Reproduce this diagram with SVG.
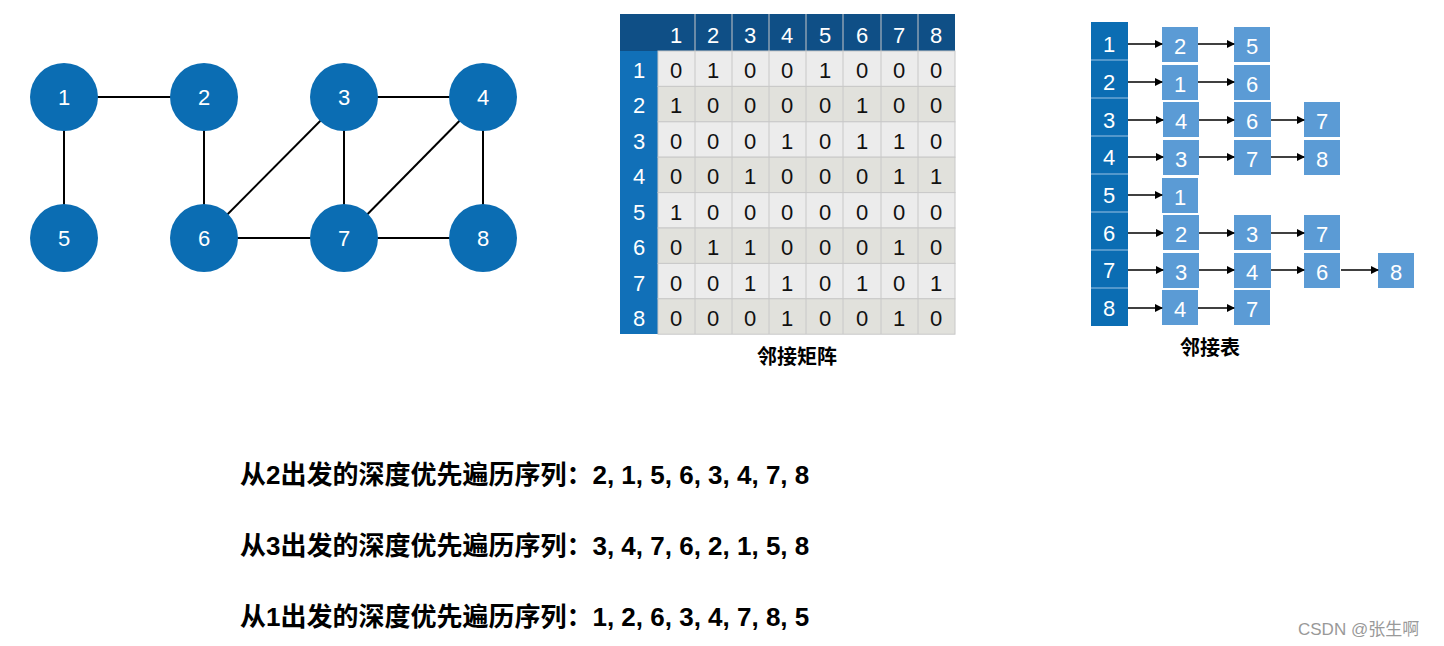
<svg xmlns="http://www.w3.org/2000/svg" width="1444" height="646" viewBox="0 0 1444 646">
<style>
.n{fill:#0b6db3}
.nt{fill:#fff;font-family:"Liberation Sans",Arial,sans-serif;font-size:22px;text-anchor:middle;dominant-baseline:central}
.e{stroke:#000;stroke-width:2}
.mt{font-family:"Liberation Sans",Arial,sans-serif;font-size:22px;text-anchor:middle;dominant-baseline:central}
.cap{font-family:"Liberation Sans","Noto Sans CJK SC",sans-serif;font-size:20px;font-weight:bold;text-anchor:middle}
.seq{font-family:"Liberation Sans","Noto Sans CJK SC",sans-serif;font-size:26px;font-weight:bold}
.lb{fill:#5b9bd5}
.a{stroke:#000;stroke-width:1.5;marker-end:url(#ar)}
</style>
<defs><marker id="ar" markerWidth="8" markerHeight="8" refX="7" refY="4" orient="auto" markerUnits="userSpaceOnUse"><path d="M0,0L8,4L0,8z"/></marker></defs>
<rect width="1444" height="646" fill="#fff"/>
<g id="edges">
<line class="e" x1="64" y1="97" x2="204" y2="97"/><line class="e" x1="64" y1="97" x2="64" y2="238"/>
<line class="e" x1="204" y1="97" x2="204" y2="238"/><line class="e" x1="204" y1="238" x2="344" y2="97"/>
<line class="e" x1="344" y1="97" x2="483" y2="97"/><line class="e" x1="344" y1="97" x2="344" y2="238"/>
<line class="e" x1="204" y1="238" x2="344" y2="238"/><line class="e" x1="344" y1="238" x2="483" y2="97"/>
<line class="e" x1="483" y1="97" x2="483" y2="238"/><line class="e" x1="344" y1="238" x2="483" y2="238"/>
</g>
<g id="n1"><circle class="n" cx="64" cy="97" r="34"/><text class="nt" x="64" y="97">1</text></g>
<g id="n2"><circle class="n" cx="204" cy="97" r="34"/><text class="nt" x="204" y="97">2</text></g>
<g id="n3"><circle class="n" cx="344" cy="97" r="34"/><text class="nt" x="344" y="97">3</text></g>
<g id="n4"><circle class="n" cx="483" cy="97" r="34"/><text class="nt" x="483" y="97">4</text></g>
<g id="n5"><circle class="n" cx="64" cy="238" r="34"/><text class="nt" x="64" y="238">5</text></g>
<g id="n6"><circle class="n" cx="204" cy="238" r="34"/><text class="nt" x="204" y="238">6</text></g>
<g id="n7"><circle class="n" cx="344" cy="238" r="34"/><text class="nt" x="344" y="238">7</text></g>
<g id="n8"><circle class="n" cx="483" cy="238" r="34"/><text class="nt" x="483" y="238">8</text></g>
<g id="matrix">
<rect x="620" y="14" width="335" height="37" fill="#0f4f86"/>
<rect x="620" y="51" width="38" height="283" fill="#1170b8"/>
<g fill="#ececec" stroke="#c8c8c8" stroke-width="1">
<rect x="658" y="51" width="297" height="35.4"/>
<rect x="658" y="86.4" width="297" height="35.4" fill="#e1e1dc"/>
<rect x="658" y="121.8" width="297" height="35.4"/>
<rect x="658" y="157.2" width="297" height="35.4" fill="#e1e1dc"/>
<rect x="658" y="192.6" width="297" height="35.4"/>
<rect x="658" y="228" width="297" height="35.4" fill="#e1e1dc"/>
<rect x="658" y="263.4" width="297" height="35.4"/>
<rect x="658" y="298.8" width="297" height="35.4" fill="#e1e1dc"/>
</g>
<g stroke="#c8c8c8"><line x1="695" y1="14" x2="695" y2="334"/><line x1="732" y1="14" x2="732" y2="334"/><line x1="769" y1="14" x2="769" y2="334"/><line x1="806" y1="14" x2="806" y2="334"/><line x1="843" y1="14" x2="843" y2="334"/><line x1="881" y1="14" x2="881" y2="334"/><line x1="918" y1="14" x2="918" y2="334"/></g>
<g class="mt" fill="#fff">
<text x="676" y="35">1</text><text x="713" y="35">2</text><text x="750" y="35">3</text><text x="787" y="35">4</text><text x="825" y="35">5</text><text x="862" y="35">6</text><text x="899" y="35">7</text><text x="936" y="35">8</text>
<text x="639" y="70">1</text><text x="639" y="105">2</text><text x="639" y="141">3</text><text x="639" y="176">4</text><text x="639" y="212">5</text><text x="639" y="247">6</text><text x="639" y="283">7</text><text x="639" y="318">8</text>
</g>
<g class="mt" fill="#111">
<text x="676" y="70">0</text><text x="713" y="70">1</text><text x="750" y="70">0</text><text x="787" y="70">0</text><text x="825" y="70">1</text><text x="862" y="70">0</text><text x="899" y="70">0</text><text x="936" y="70">0</text>
<text x="676" y="105">1</text><text x="713" y="105">0</text><text x="750" y="105">0</text><text x="787" y="105">0</text><text x="825" y="105">0</text><text x="862" y="105">1</text><text x="899" y="105">0</text><text x="936" y="105">0</text>
<text x="676" y="141">0</text><text x="713" y="141">0</text><text x="750" y="141">0</text><text x="787" y="141">1</text><text x="825" y="141">0</text><text x="862" y="141">1</text><text x="899" y="141">1</text><text x="936" y="141">0</text>
<text x="676" y="176">0</text><text x="713" y="176">0</text><text x="750" y="176">1</text><text x="787" y="176">0</text><text x="825" y="176">0</text><text x="862" y="176">0</text><text x="899" y="176">1</text><text x="936" y="176">1</text>
<text x="676" y="212">1</text><text x="713" y="212">0</text><text x="750" y="212">0</text><text x="787" y="212">0</text><text x="825" y="212">0</text><text x="862" y="212">0</text><text x="899" y="212">0</text><text x="936" y="212">0</text>
<text x="676" y="247">0</text><text x="713" y="247">1</text><text x="750" y="247">1</text><text x="787" y="247">0</text><text x="825" y="247">0</text><text x="862" y="247">0</text><text x="899" y="247">1</text><text x="936" y="247">0</text>
<text x="676" y="283">0</text><text x="713" y="283">0</text><text x="750" y="283">1</text><text x="787" y="283">1</text><text x="825" y="283">0</text><text x="862" y="283">1</text><text x="899" y="283">0</text><text x="936" y="283">1</text>
<text x="676" y="318">0</text><text x="713" y="318">0</text><text x="750" y="318">0</text><text x="787" y="318">1</text><text x="825" y="318">0</text><text x="862" y="318">0</text><text x="899" y="318">1</text><text x="936" y="318">0</text>
</g>
<text class="cap" x="797" y="364">邻接矩阵</text>
</g>
<g id="adjlist">
<rect x="1091" y="22" width="37" height="304" fill="#0b6db3"/>
<g stroke="#9cc3e4"><line x1="1091" y1="60" x2="1128" y2="60"/><line x1="1091" y1="98" x2="1128" y2="98"/><line x1="1091" y1="136" x2="1128" y2="136"/><line x1="1091" y1="174" x2="1128" y2="174"/><line x1="1091" y1="212" x2="1128" y2="212"/><line x1="1091" y1="250" x2="1128" y2="250"/><line x1="1091" y1="288" x2="1128" y2="288"/></g>
<g class="lb">
<rect x="1162" y="27" width="36" height="35"/><rect x="1234" y="27" width="36" height="35"/>
<rect x="1162" y="65" width="36" height="35"/><rect x="1234" y="65" width="36" height="35"/>
<rect x="1163" y="102" width="36" height="35"/><rect x="1234" y="102" width="37" height="35"/><rect x="1304" y="102" width="36" height="35"/>
<rect x="1163" y="140" width="36" height="35"/><rect x="1234" y="140" width="37" height="35"/><rect x="1304" y="140" width="36" height="35"/>
<rect x="1162" y="178" width="36" height="35"/>
<rect x="1163" y="215" width="36" height="35"/><rect x="1234" y="215" width="37" height="35"/><rect x="1304" y="215" width="36" height="35"/>
<rect x="1163" y="253" width="36" height="35"/><rect x="1234" y="253" width="37" height="35"/><rect x="1304" y="253" width="36" height="35"/><rect x="1378" y="253" width="36" height="35"/>
<rect x="1162" y="290" width="36" height="35"/><rect x="1234" y="290" width="36" height="35"/>
</g>
<g class="mt" fill="#fff">
<text x="1109" y="44">1</text><text x="1109" y="82">2</text><text x="1109" y="120">3</text><text x="1109" y="157">4</text><text x="1109" y="195">5</text><text x="1109" y="233">6</text><text x="1109" y="270">7</text><text x="1109" y="308">8</text>
<text x="1180" y="46">2</text><text x="1252" y="46">5</text>
<text x="1180" y="84">1</text><text x="1252" y="84">6</text>
<text x="1181" y="121">4</text><text x="1252" y="121">6</text><text x="1322" y="121">7</text>
<text x="1181" y="159">3</text><text x="1252" y="159">7</text><text x="1322" y="159">8</text>
<text x="1180" y="197">1</text>
<text x="1181" y="234">2</text><text x="1252" y="234">3</text><text x="1322" y="234">7</text>
<text x="1181" y="272">3</text><text x="1252" y="272">4</text><text x="1322" y="272">6</text><text x="1396" y="272">8</text>
<text x="1180" y="309">4</text><text x="1252" y="309">7</text>
</g>
<text class="cap" x="1210" y="355">邻接表</text>
</g>
<g id="connectors">
<line class="a" x1="1128" y1="44" x2="1162" y2="44"/><line class="a" x1="1198" y1="44" x2="1234" y2="44"/>
<line class="a" x1="1128" y1="82" x2="1162" y2="82"/><line class="a" x1="1198" y1="82" x2="1234" y2="82"/>
<line class="a" x1="1128" y1="120" x2="1163" y2="120"/><line class="a" x1="1199" y1="120" x2="1234" y2="120"/><line class="a" x1="1271" y1="120" x2="1304" y2="120"/>
<line class="a" x1="1128" y1="157" x2="1163" y2="157"/><line class="a" x1="1199" y1="157" x2="1234" y2="157"/><line class="a" x1="1271" y1="157" x2="1304" y2="157"/>
<line class="a" x1="1128" y1="195" x2="1162" y2="195"/>
<line class="a" x1="1128" y1="233" x2="1163" y2="233"/><line class="a" x1="1199" y1="233" x2="1234" y2="233"/><line class="a" x1="1271" y1="233" x2="1304" y2="233"/>
<line class="a" x1="1128" y1="270" x2="1163" y2="270"/><line class="a" x1="1199" y1="270" x2="1234" y2="270"/><line class="a" x1="1271" y1="270" x2="1304" y2="270"/><line class="a" x1="1341" y1="270" x2="1378" y2="270"/>
<line class="a" x1="1128" y1="308" x2="1162" y2="308"/><line class="a" x1="1198" y1="308" x2="1234" y2="308"/>
</g>
<g id="text">
<text class="seq" x="240" y="484">从2出发的深度优先遍历序列：2, 1, 5, 6, 3, 4, 7, 8</text>
<text class="seq" x="240" y="555">从3出发的深度优先遍历序列：3, 4, 7, 6, 2, 1, 5, 8</text>
<text class="seq" x="240" y="626">从1出发的深度优先遍历序列：1, 2, 6, 3, 4, 7, 8, 5</text>
<text x="1298" y="635" fill="#999" font-family="'Liberation Sans','Noto Sans CJK SC',sans-serif" font-size="17">CSDN @张生啊</text>
</g>
</svg>
